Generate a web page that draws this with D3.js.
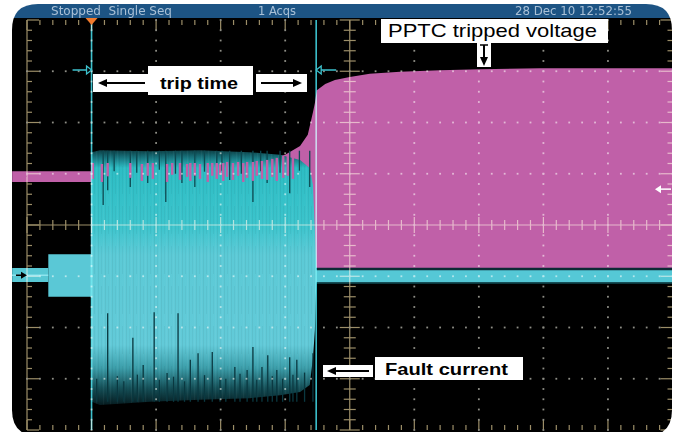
<!DOCTYPE html>
<html>
<head>
<meta charset="utf-8">
<script src="https://cdn.jsdelivr.net/npm/d3@7"></script>
<style>
    html, body { margin: 0; padding: 0; background: #fff; }
    svg { display: block; }
</style>
</head>
<body>
<svg id="scope" width="674" height="432"></svg>
<script>
// time and level are both in screen divisions (10 x 8 graticule)
const statusText = ['Stopped  Single Seq', '1 Acqs', '28 Dec 10 12:52:55'];
const cursorTimes = [1.0, 4.48];
const triggerTime = 1.0;
const triggerLevel = 0.70;
const channelLevels = [0.95, -0.98];

// channel 1 - PPTC voltage
const voltagePre = [
    { t: -0.23, hi: 1.05, lo: 0.84 },
    { t: 1.0, hi: 1.05, lo: 0.84 }
];
const voltageEnvelope = [
    [1.0, 1.21], [1.91, 1.23], [2.68, 1.23], [3.45, 1.27], [3.76, 1.31],
    [4.0, 1.37], [4.23, 1.54], [4.35, 1.76], [4.43, 2.20], [4.46, 2.38],
    [4.49, 2.63], [4.62, 2.75], [4.77, 2.83], [5.0, 2.89], [5.31, 2.95],
    [5.78, 2.99], [6.4, 3.02], [7.02, 3.04], [7.95, 3.06], [8.88, 3.06], [10.0, 3.06]
];
const voltageFloor = -0.84;
const voltageSpikes = [
    [1.02, 1.21, 0.90], [1.16, 1.19, 0.84], [1.25, 1.21, 0.95], [1.60, 1.21, 0.92],
    [1.78, 1.19, 0.86], [1.87, 1.21, 0.96], [1.95, 1.21, 0.90], [2.17, 1.19, 0.84],
    [2.25, 1.21, 0.98], [2.37, 1.21, 0.88], [2.48, 1.19, 0.94], [2.53, 1.21, 0.86],
    [2.60, 1.21, 0.96], [2.68, 1.19, 0.90], [2.80, 1.21, 0.84], [2.87, 1.21, 0.96],
    [2.94, 1.21, 0.90], [2.99, 1.19, 0.98], [3.04, 1.21, 0.86], [3.10, 1.23, 0.94],
    [3.19, 1.21, 0.88], [3.27, 1.23, 0.96], [3.35, 1.21, 0.84], [3.41, 1.23, 0.92],
    [3.50, 1.23, 0.86], [3.56, 1.25, 0.96], [3.64, 1.25, 0.90], [3.72, 1.27, 0.88],
    [3.80, 1.29, 0.94], [3.87, 1.31, 0.86], [3.97, 1.35, 0.92], [4.04, 1.37, 0.96],
    [4.12, 1.40, 0.90]
];

// channel 2 - fault current
const currentIdle = [
    { t: -0.23, hi: -0.84, lo: -1.11 },
    { t: 0.33, hi: -0.84, lo: -1.11 }
];
const currentPre = [
    { t: 0.33, hi: -0.57, lo: -1.40 },
    { t: 1.0, hi: -0.57, lo: -1.40 }
];
const currentBurst = [
    { t: 1.0, hi: 1.42, lo: -3.45 },
    { t: 1.13, hi: 1.46, lo: -3.51 },
    { t: 1.91, hi: 1.44, lo: -3.45 },
    { t: 2.68, hi: 1.46, lo: -3.41 },
    { t: 3.45, hi: 1.42, lo: -3.38 },
    { t: 3.92, hi: 1.37, lo: -3.32 },
    { t: 4.23, hi: 1.27, lo: -3.26 },
    { t: 4.38, hi: 1.11, lo: -3.12 },
    { t: 4.43, hi: 0.78, lo: -2.60 },
    { t: 4.46, hi: -0.10, lo: -2.05 },
    { t: 4.48, hi: -0.78, lo: -1.17 }
];
const currentAfter = [
    { t: 4.48, hi: -0.86, lo: -1.12 },
    { t: 10.0, hi: -0.86, lo: -1.12 }
];
const currentDipsUp = [
    [1.25, -1.72], [1.64, -2.20], [1.80, -2.73], [1.97, -1.70], [2.17, -2.89],
    [2.34, -1.72], [2.53, -2.63], [2.65, -2.50], [2.87, -2.48], [2.99, -2.97],
    [3.22, -2.77], [3.41, -2.83], [3.50, -2.38], [3.64, -2.77], [3.73, -2.54],
    [3.87, -2.83], [4.07, -2.58], [4.18, -2.63], [4.43, -2.50],
    [1.08, -3.00], [1.40, -2.95], [1.50, -3.05], [1.71, -2.92], [2.05, -3.02],
    [2.27, -2.96], [2.44, -3.05], [2.75, -2.93], [3.08, -3.00], [3.30, -2.90],
    [3.56, -3.02], [3.80, -2.95], [3.96, -3.00], [4.12, -2.92], [4.30, -2.88]
];
const currentDipsDown = [
    [1.18, 0.39], [1.25, 0.68], [1.60, 0.74], [1.87, 0.82], [2.15, 0.45],
    [2.40, 0.82], [2.60, 0.74], [2.94, 0.94], [3.14, 0.88], [3.50, 0.45],
    [3.72, 0.82], [4.07, 0.62], [4.38, 0.74],
    [1.35, 1.05], [1.70, 1.02], [2.05, 1.08], [2.30, 1.00], [2.75, 1.04],
    [3.02, 1.06], [3.32, 1.00], [3.62, 1.05], [3.92, 1.02], [4.22, 1.06]
];

const svg = d3.select('#scope');
const x = d3.scaleLinear().domain([0, 10]).range([27, 672.5]);
const y = d3.scaleLinear().domain([-4, 4]).range([430, 20]);

const magenta = '#c060a8';
const cyan = '#58c8d4';

// bezel
const frame = 'M38,4 H646 Q672,4 672,30 V410 Q672,436 646,436 H38 Q12,436 12,410 V30 Q12,4 38,4 Z';
const defs = svg.append('defs');
defs.append('clipPath').attr('id', 'frameClip').append('path').attr('d', frame);
const g = svg.append('g').attr('clip-path', 'url(#frameClip)');
g.append('rect').attr('x', 0).attr('y', 0).attr('width', 674).attr('height', 440).attr('fill', '#000');
g.append('rect').attr('x', 0).attr('y', 0).attr('width', 674).attr('height', 18).attr('fill', '#1d5484');

const statusX = [[51, 121], [258, 38], [515, 117]];
g.selectAll('text.status')
    .data(statusText)
    .enter()
    .append('text')
    .attr('class', 'status')
    .attr('x', (d, i) => statusX[i][0])
    .attr('y', 15)
    .attr('textLength', (d, i) => statusX[i][1])
    .attr('lengthAdjust', 'spacingAndGlyphs')
    .attr('font-family', 'Liberation Sans Narrow, DejaVu Sans Condensed, Liberation Sans, sans-serif')
    .attr('font-size', 12.5)
    .attr('fill', '#a9c0d6')
    .style('white-space', 'pre')
    .text(d => d);

const plot = g.append('g');

// gradient for the dense current burst
const grad = defs.append('linearGradient')
    .attr('id', 'burstFill')
    .attr('gradientUnits', 'userSpaceOnUse')
    .attr('x1', 0).attr('x2', 0)
    .attr('y1', y(1.5)).attr('y2', y(-3.55));
const top0 = y(1.5), span = y(-3.55) - y(1.5);
[[148, '#0b3136'], [157, '#17707a'], [168, '#2dbdc4'], [225, '#3cc4cc'],
 [255, '#5ccad6'], [345, '#62cad8'], [368, '#3c9eaa'], [388, '#155058'], [407, '#04161a']]
    .forEach(s => grad.append('stop').attr('offset', (s[0] - top0) / span).attr('stop-color', s[1]));

// fine streak texture for the noisy burst
const pat = defs.append('pattern')
    .attr('id', 'streaks')
    .attr('patternUnits', 'userSpaceOnUse')
    .attr('width', 7).attr('height', 40);
pat.append('rect').attr('x', 0).attr('y', 0).attr('width', 1).attr('height', 40).attr('fill', '#000').attr('opacity', 0.05);
pat.append('rect').attr('x', 3).attr('y', 6).attr('width', 1).attr('height', 28).attr('fill', '#000').attr('opacity', 0.04);
pat.append('rect').attr('x', 5).attr('y', 0).attr('width', 1).attr('height', 40).attr('fill', '#fff').attr('opacity', 0.04);

const band = d3.area().x(d => x(d.t)).y0(d => y(d.lo)).y1(d => y(d.hi));

// voltage behind current
plot.append('path')
    .datum(voltageEnvelope)
    .attr('d', d3.area().x(d => x(d[0])).y0(y(voltageFloor)).y1(d => y(d[1])))
    .attr('fill', magenta);
plot.append('path').datum(voltagePre).attr('d', band).attr('fill', magenta);

// current
plot.append('path').datum(currentIdle).attr('d', band).attr('fill', cyan);
plot.append('line')
    .attr('x1', 12).attr('x2', x(0.33))
    .attr('y1', y(-0.98)).attr('y2', y(-0.98))
    .attr('stroke', '#8ee4ee').attr('stroke-width', 1.5);
plot.append('path').datum(currentPre).attr('d', band).attr('fill', '#5ac8d6');
plot.append('path').datum(currentBurst).attr('d', band).attr('fill', 'url(#burstFill)');
plot.append('path').datum(currentBurst).attr('d', band).attr('fill', 'url(#streaks)');
plot.append('path').datum(currentAfter).attr('d', band).attr('fill', '#55c8d6');
plot.append('line')
    .attr('x1', x(4.48)).attr('x2', x(10))
    .attr('y1', y(-0.86)).attr('y2', y(-0.86))
    .attr('stroke', '#0c2a34').attr('stroke-width', 2.5);
plot.append('line')
    .attr('x1', x(4.48)).attr('x2', x(10))
    .attr('y1', y(-1.13)).attr('y2', y(-1.13))
    .attr('stroke', '#0f4850').attr('stroke-width', 1.5);

plot.selectAll('line.dipUp')
    .data(currentDipsUp)
    .enter()
    .append('line')
    .attr('class', 'dipUp')
    .attr('x1', d => x(d[0])).attr('x2', d => x(d[0]))
    .attr('y1', y(-3.45)).attr('y2', d => y(d[1]))
    .attr('stroke', '#0a3840').attr('stroke-width', 1.3);
plot.selectAll('line.dipDown')
    .data(currentDipsDown)
    .enter()
    .append('line')
    .attr('class', 'dipDown')
    .attr('x1', d => x(d[0])).attr('x2', d => x(d[0]))
    .attr('y1', y(1.45)).attr('y2', d => y(d[1]))
    .attr('stroke', '#0d4850').attr('stroke-width', 1.3);

plot.selectAll('line.vspike')
    .data(voltageSpikes)
    .enter()
    .append('line')
    .attr('class', 'vspike')
    .attr('x1', d => x(d[0])).attr('x2', d => x(d[0]))
    .attr('y1', d => y(d[1])).attr('y2', d => y(d[2]))
    .attr('stroke', magenta).attr('stroke-width', 2.4);

// graticule, screen blended so it lightens the traces
const grid = g.append('g').style('mix-blend-mode', 'screen');
const tan = '#9c8e68';
const minorX = d3.range(0, 10.001, 0.2);
const minorY = d3.range(-4, 4.001, 0.2);
const isMajor = v => Math.abs(v - Math.round(v)) < 0.01;

[[x(0), y(4), x(0), y(-4)], [x(5), y(4), x(5), y(-4)], [x(0), y(0), x(10), y(0)]]
    .forEach(l => grid.append('line')
        .attr('x1', l[0]).attr('y1', l[1]).attr('x2', l[2]).attr('y2', l[3])
        .attr('stroke', tan).attr('stroke-width', 1.2));

grid.selectAll('g.tx')
    .data(minorX)
    .enter()
    .append('g')
    .attr('class', 'tx')
    .each(function(d) {
        const len = isMajor(d) ? 10 : 5;
        const s = d3.select(this);
        s.append('line').attr('x1', x(d)).attr('x2', x(d)).attr('y1', y(4)).attr('y2', y(4) + len);
        s.append('line').attr('x1', x(d)).attr('x2', x(d)).attr('y1', y(-4)).attr('y2', y(-4) - len);
        s.append('line').attr('x1', x(d)).attr('x2', x(d)).attr('y1', y(0) - (isMajor(d) ? 8 : 5)).attr('y2', y(0) + (isMajor(d) ? 8 : 5));
    })
    .selectAll('line').attr('stroke', tan).attr('stroke-width', 1.2);

grid.selectAll('g.ty')
    .data(minorY)
    .enter()
    .append('g')
    .attr('class', 'ty')
    .each(function(d) {
        const len = isMajor(d) ? 12 : 5;
        const s = d3.select(this);
        s.append('line').attr('x1', x(0)).attr('x2', x(0) + len).attr('y1', y(d)).attr('y2', y(d));
        s.append('line').attr('x1', x(10)).attr('x2', x(10) - len).attr('y1', y(d)).attr('y2', y(d));
        s.append('line').attr('x1', x(5) - (isMajor(d) ? 10 : 6)).attr('x2', x(5) + (isMajor(d) ? 10 : 6)).attr('y1', y(d)).attr('y2', y(d));
    })
    .selectAll('line').attr('stroke', tan).attr('stroke-width', 1.2);

// dotted division lines
const dots = [];
d3.range(1, 10).filter(i => i !== 5).forEach(i => minorY.forEach(v => dots.push([i, v])));
d3.range(-3, 4).filter(j => j !== 0).forEach(j => minorX.forEach(t => dots.push([t, j])));
grid.selectAll('rect.dot')
    .data(dots)
    .enter()
    .append('rect')
    .attr('class', 'dot')
    .attr('x', d => x(d[0]) - 0.9).attr('y', d => y(d[1]) - 0.9)
    .attr('width', 1.8).attr('height', 1.8)
    .attr('fill', '#8e8e86');

// cursors
const cur = g.append('g').style('mix-blend-mode', 'screen');
cur.selectAll('line.cursor')
    .data(cursorTimes)
    .enter()
    .append('line')
    .attr('x1', d => x(d)).attr('x2', d => x(d))
    .attr('y1', y(4)).attr('y2', y(-4))
    .attr('stroke', '#3cc0cc').attr('stroke-width', 1.6);

const cy = 70;
g.append('line').attr('x1', x(cursorTimes[0]) - 19).attr('x2', x(cursorTimes[0]) - 5)
    .attr('y1', cy).attr('y2', cy).attr('stroke', '#3cc0cc').attr('stroke-width', 1.5);
g.append('path')
    .attr('d', `M${x(cursorTimes[0]) - 5},${cy - 4} L${x(cursorTimes[0])},${cy} L${x(cursorTimes[0]) - 5},${cy + 4} Z`)
    .attr('fill', 'none').attr('stroke', '#3cc0cc').attr('stroke-width', 1.3);
g.append('line').attr('x1', x(cursorTimes[1]) + 5).attr('x2', x(cursorTimes[1]) + 20)
    .attr('y1', cy).attr('y2', cy).attr('stroke', '#3cc0cc').attr('stroke-width', 1.5);
g.append('path')
    .attr('d', `M${x(cursorTimes[1]) + 5},${cy - 4} L${x(cursorTimes[1])},${cy} L${x(cursorTimes[1]) + 5},${cy + 4} Z`)
    .attr('fill', 'none').attr('stroke', '#3cc0cc').attr('stroke-width', 1.3);

// trigger markers
g.append('path')
    .attr('d', `M${x(triggerTime) - 6},18 L${x(triggerTime) + 6},18 L${x(triggerTime)},25 Z`)
    .attr('fill', '#f07a2c');
g.append('line').attr('x1', 660).attr('x2', 671).attr('y1', y(triggerLevel)).attr('y2', y(triggerLevel))
    .attr('stroke', '#fff').attr('stroke-width', 1.5);
g.append('path')
    .attr('d', `M655,${y(triggerLevel)} L661,${y(triggerLevel) - 4} L661,${y(triggerLevel) + 4} Z`)
    .attr('fill', '#fff');

// channel ground markers
const chColors = [magenta, '#000'];
channelLevels.forEach((v, i) => {
    g.append('line').attr('x1', 16).attr('x2', 22).attr('y1', y(v)).attr('y2', y(v))
        .attr('stroke', chColors[i]).attr('stroke-width', 1.5);
    g.append('path')
        .attr('d', `M27,${y(v)} L21,${y(v) - 3.5} L21,${y(v) + 3.5} Z`)
        .attr('fill', chColors[i]);
});

// annotations
const ann = svg.append('g').attr('font-family', 'Liberation Sans, Arial, sans-serif').attr('fill', '#000');

function arrow(parent, x1, x2, yy, horizontal) {
    const dir = Math.sign(x2 - x1);
    if (horizontal) {
        parent.append('line').attr('x1', x1).attr('x2', x2 - dir * 6).attr('y1', yy).attr('y2', yy)
            .attr('stroke', '#000').attr('stroke-width', 2);
        parent.append('path').attr('d', `M${x2},${yy} L${x2 - dir * 9},${yy - 4} L${x2 - dir * 9},${yy + 4} Z`)
            .attr('fill', '#000');
    } else {
        parent.append('line').attr('y1', x1).attr('y2', x2 - dir * 6).attr('x1', yy).attr('x2', yy)
            .attr('stroke', '#000').attr('stroke-width', 2);
        parent.append('path').attr('d', `M${yy},${x2} L${yy - 4},${x2 - dir * 9} L${yy + 4},${x2 - dir * 9} Z`)
            .attr('fill', '#000');
    }
}

// trip time
ann.append('rect').attr('x', 93).attr('y', 74).attr('width', 160).attr('height', 18).attr('fill', '#fff');
ann.append('rect').attr('x', 148).attr('y', 66).attr('width', 105).attr('height', 29).attr('fill', '#fff');
ann.append('rect').attr('x', 256).attr('y', 74).attr('width', 51).attr('height', 18).attr('fill', '#fff');
arrow(ann, 145, 98, 83, true);
arrow(ann, 261, 302, 83, true);
ann.append('text').attr('x', 160).attr('y', 88.5).attr('font-size', 17).attr('font-weight', 'bold')
    .attr('textLength', 78).attr('lengthAdjust', 'spacingAndGlyphs').text('trip time');

// PPTC tripped voltage
ann.append('rect').attr('x', 381).attr('y', 19).attr('width', 227).attr('height', 24).attr('fill', '#fff');
ann.append('rect').attr('x', 477).attr('y', 42).attr('width', 14).attr('height', 25).attr('fill', '#fff');
ann.append('text').attr('x', 388).attr('y', 37).attr('font-size', 18.5)
    .attr('textLength', 209).attr('lengthAdjust', 'spacingAndGlyphs').text('PPTC tripped voltage');
ann.append('line').attr('x1', 480).attr('x2', 488).attr('y1', 45).attr('y2', 45).attr('stroke', '#000').attr('stroke-width', 1.5);
arrow(ann, 45, 66, 484, false);

// Fault current
ann.append('rect').attr('x', 375).attr('y', 357).attr('width', 148).attr('height', 23).attr('fill', '#fff');
ann.append('rect').attr('x', 323).attr('y', 365).attr('width', 50).attr('height', 12).attr('fill', '#fff');
arrow(ann, 369, 327, 371, true);
ann.append('text').attr('x', 385).attr('y', 374.5).attr('font-size', 17).attr('font-weight', 'bold')
    .attr('textLength', 123).attr('lengthAdjust', 'spacingAndGlyphs').text('Fault current');
</script>
</body>
</html>
